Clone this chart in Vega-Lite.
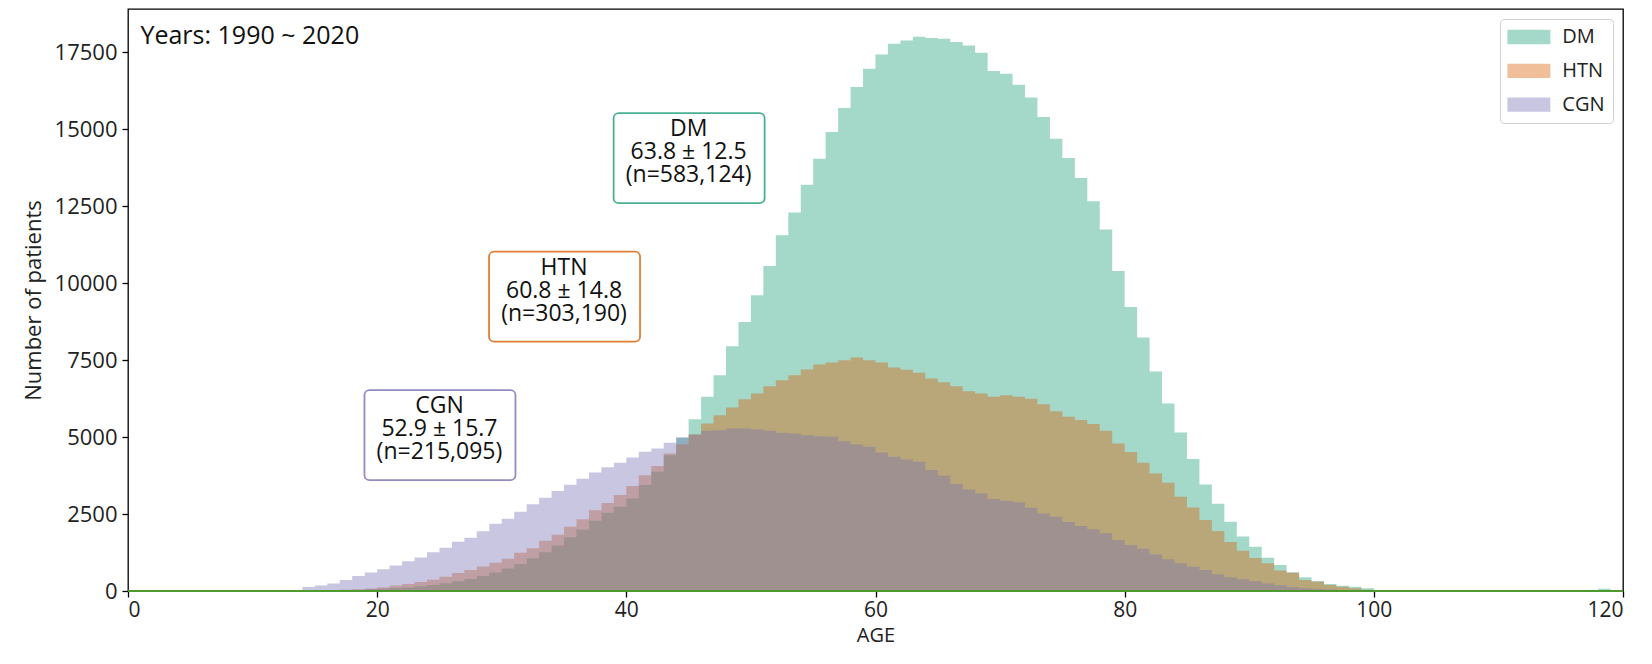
{
  "$schema": "https://vega.github.io/schema/vega-lite/v6.json",
  "width": 1495,
  "height": 582,
  "autosize": {"type": "none"},
  "padding": {"left": 128, "top": 9, "right": 29, "bottom": 73},
  "background": "white",
  "config": {
    "font": "Open Sans",
    "view": {"stroke": "#000", "strokeWidth": 1.3},
    "axis": {"grid": false, "domain": false, "tickColor": "#000", "tickWidth": 1.3, "tickSize": 6, "labelColor": "#222", "labelFontSize": 21, "titleFontSize": 20, "titleFontWeight": "normal", "titleColor": "#222"},
    "legend": {"symbolType": "M-3.07,-1.02H3.07V1.02H-3.07Z", "symbolSize": 196, "symbolOffset": 10.9, "symbolOpacity": 0.4, "symbolStrokeWidth": 0, "labelFontSize": 20, "labelColor": "#222", "labelOffset": 23.4, "rowPadding": 13.8, "padding": 8, "strokeColor": "#d0d0d0", "cornerRadius": 4, "fillColor": "white"}
  },
  "datasets": {
    "hist": [
      {"age":12,"dx":"DM","n":0},{"age":13,"dx":"DM","n":0},{"age":14,"dx":"DM","n":5},{"age":15,"dx":"DM","n":10},{"age":16,"dx":"DM","n":15},{"age":17,"dx":"DM","n":25},{"age":18,"dx":"DM","n":40},{"age":19,"dx":"DM","n":60},
      {"age":20,"dx":"DM","n":77},{"age":21,"dx":"DM","n":97},{"age":22,"dx":"DM","n":117},{"age":23,"dx":"DM","n":155},{"age":24,"dx":"DM","n":194},{"age":25,"dx":"DM","n":252},{"age":26,"dx":"DM","n":320},{"age":27,"dx":"DM","n":388},{"age":28,"dx":"DM","n":485},{"age":29,"dx":"DM","n":602},
      {"age":30,"dx":"DM","n":728},{"age":31,"dx":"DM","n":874},{"age":32,"dx":"DM","n":1067},{"age":33,"dx":"DM","n":1261},{"age":34,"dx":"DM","n":1476},{"age":35,"dx":"DM","n":1747},{"age":36,"dx":"DM","n":1990},{"age":37,"dx":"DM","n":2282},{"age":38,"dx":"DM","n":2543},{"age":39,"dx":"DM","n":2737},
      {"age":40,"dx":"DM","n":3008},{"age":41,"dx":"DM","n":3441},{"age":42,"dx":"DM","n":3874},{"age":43,"dx":"DM","n":4415},{"age":44,"dx":"DM","n":4990},{"age":45,"dx":"DM","n":5583},{"age":46,"dx":"DM","n":6309},{"age":47,"dx":"DM","n":7014},{"age":48,"dx":"DM","n":7955},{"age":49,"dx":"DM","n":8745},
      {"age":50,"dx":"DM","n":9611},{"age":51,"dx":"DM","n":10563},{"age":52,"dx":"DM","n":11559},{"age":53,"dx":"DM","n":12296},{"age":54,"dx":"DM","n":13205},{"age":55,"dx":"DM","n":14049},{"age":56,"dx":"DM","n":14914},{"age":57,"dx":"DM","n":15693},{"age":58,"dx":"DM","n":16375},{"age":59,"dx":"DM","n":16972},
      {"age":60,"dx":"DM","n":17437},{"age":61,"dx":"DM","n":17783},{"age":62,"dx":"DM","n":17891},{"age":63,"dx":"DM","n":18010},{"age":64,"dx":"DM","n":17968},{"age":65,"dx":"DM","n":17944},{"age":66,"dx":"DM","n":17836},{"age":67,"dx":"DM","n":17729},{"age":68,"dx":"DM","n":17491},{"age":69,"dx":"DM","n":16895},
      {"age":70,"dx":"DM","n":16809},{"age":71,"dx":"DM","n":16452},{"age":72,"dx":"DM","n":16040},{"age":73,"dx":"DM","n":15401},{"age":74,"dx":"DM","n":14699},{"age":75,"dx":"DM","n":14070},{"age":76,"dx":"DM","n":13420},{"age":77,"dx":"DM","n":12663},{"age":78,"dx":"DM","n":11744},{"age":79,"dx":"DM","n":10400},
      {"age":80,"dx":"DM","n":9231},{"age":81,"dx":"DM","n":8237},{"age":82,"dx":"DM","n":7130},{"age":83,"dx":"DM","n":6094},{"age":84,"dx":"DM","n":5152},{"age":85,"dx":"DM","n":4286},{"age":86,"dx":"DM","n":3464},{"age":87,"dx":"DM","n":2835},{"age":88,"dx":"DM","n":2251},{"age":89,"dx":"DM","n":1775},
      {"age":90,"dx":"DM","n":1435},{"age":91,"dx":"DM","n":1082},{"age":92,"dx":"DM","n":844},{"age":93,"dx":"DM","n":606},{"age":94,"dx":"DM","n":444},{"age":95,"dx":"DM","n":325},{"age":96,"dx":"DM","n":227},{"age":97,"dx":"DM","n":173},{"age":98,"dx":"DM","n":141},{"age":99,"dx":"DM","n":87},
      {"age":100,"dx":"DM","n":0},{"age":117,"dx":"DM","n":0},{"age":118,"dx":"DM","n":70},{"age":119,"dx":"DM","n":0},

      {"age":15,"dx":"HTN","n":0},{"age":16,"dx":"HTN","n":20},{"age":17,"dx":"HTN","n":40},{"age":18,"dx":"HTN","n":60},{"age":19,"dx":"HTN","n":85},
      {"age":20,"dx":"HTN","n":117},{"age":21,"dx":"HTN","n":175},{"age":22,"dx":"HTN","n":224},{"age":23,"dx":"HTN","n":292},{"age":24,"dx":"HTN","n":368},{"age":25,"dx":"HTN","n":466},{"age":26,"dx":"HTN","n":582},{"age":27,"dx":"HTN","n":680},{"age":28,"dx":"HTN","n":796},{"age":29,"dx":"HTN","n":922},
      {"age":30,"dx":"HTN","n":1048},{"age":31,"dx":"HTN","n":1242},{"age":32,"dx":"HTN","n":1388},{"age":33,"dx":"HTN","n":1630},{"age":34,"dx":"HTN","n":1824},{"age":35,"dx":"HTN","n":2087},{"age":36,"dx":"HTN","n":2329},{"age":37,"dx":"HTN","n":2620},{"age":38,"dx":"HTN","n":2863},{"age":39,"dx":"HTN","n":3116},
      {"age":40,"dx":"HTN","n":3408},{"age":41,"dx":"HTN","n":3765},{"age":42,"dx":"HTN","n":4058},{"age":43,"dx":"HTN","n":4469},{"age":44,"dx":"HTN","n":4772},{"age":45,"dx":"HTN","n":5085},{"age":46,"dx":"HTN","n":5442},{"age":47,"dx":"HTN","n":5713},{"age":48,"dx":"HTN","n":5962},{"age":49,"dx":"HTN","n":6232},
      {"age":50,"dx":"HTN","n":6416},{"age":51,"dx":"HTN","n":6654},{"age":52,"dx":"HTN","n":6849},{"age":53,"dx":"HTN","n":7011},{"age":54,"dx":"HTN","n":7195},{"age":55,"dx":"HTN","n":7358},{"age":56,"dx":"HTN","n":7423},{"age":57,"dx":"HTN","n":7498},{"age":58,"dx":"HTN","n":7585},{"age":59,"dx":"HTN","n":7498},
      {"age":60,"dx":"HTN","n":7423},{"age":61,"dx":"HTN","n":7260},{"age":62,"dx":"HTN","n":7190},{"age":63,"dx":"HTN","n":7088},{"age":64,"dx":"HTN","n":6906},{"age":65,"dx":"HTN","n":6786},{"age":66,"dx":"HTN","n":6656},{"age":67,"dx":"HTN","n":6494},{"age":68,"dx":"HTN","n":6419},{"age":69,"dx":"HTN","n":6309},
      {"age":70,"dx":"HTN","n":6364},{"age":71,"dx":"HTN","n":6309},{"age":72,"dx":"HTN","n":6244},{"age":73,"dx":"HTN","n":6072},{"age":74,"dx":"HTN","n":5845},{"age":75,"dx":"HTN","n":5660},{"age":76,"dx":"HTN","n":5553},{"age":77,"dx":"HTN","n":5423},{"age":78,"dx":"HTN","n":5206},{"age":79,"dx":"HTN","n":4796},
      {"age":80,"dx":"HTN","n":4513},{"age":81,"dx":"HTN","n":4166},{"age":82,"dx":"HTN","n":3821},{"age":83,"dx":"HTN","n":3517},{"age":84,"dx":"HTN","n":3062},{"age":85,"dx":"HTN","n":2717},{"age":86,"dx":"HTN","n":2305},{"age":87,"dx":"HTN","n":1948},{"age":88,"dx":"HTN","n":1591},{"age":89,"dx":"HTN","n":1309},
      {"age":90,"dx":"HTN","n":1075},{"age":91,"dx":"HTN","n":899},{"age":92,"dx":"HTN","n":670},{"age":93,"dx":"HTN","n":595},{"age":94,"dx":"HTN","n":357},{"age":95,"dx":"HTN","n":303},{"age":96,"dx":"HTN","n":195},{"age":97,"dx":"HTN","n":141},{"age":98,"dx":"HTN","n":87},{"age":99,"dx":"HTN","n":40},{"age":100,"dx":"HTN","n":0},

      {"age":12,"dx":"CGN","n":0},{"age":13,"dx":"CGN","n":0},{"age":14,"dx":"CGN","n":126},{"age":15,"dx":"CGN","n":175},{"age":16,"dx":"CGN","n":243},{"age":17,"dx":"CGN","n":359},{"age":18,"dx":"CGN","n":485},{"age":19,"dx":"CGN","n":602},
      {"age":20,"dx":"CGN","n":708},{"age":21,"dx":"CGN","n":825},{"age":22,"dx":"CGN","n":970},{"age":23,"dx":"CGN","n":1087},{"age":24,"dx":"CGN","n":1261},{"age":25,"dx":"CGN","n":1408},{"age":26,"dx":"CGN","n":1602},{"age":27,"dx":"CGN","n":1728},{"age":28,"dx":"CGN","n":1941},{"age":29,"dx":"CGN","n":2184},
      {"age":30,"dx":"CGN","n":2349},{"age":31,"dx":"CGN","n":2572},{"age":32,"dx":"CGN","n":2815},{"age":33,"dx":"CGN","n":3029},{"age":34,"dx":"CGN","n":3251},{"age":35,"dx":"CGN","n":3450},{"age":36,"dx":"CGN","n":3650},{"age":37,"dx":"CGN","n":3850},{"age":38,"dx":"CGN","n":4020},{"age":39,"dx":"CGN","n":4166},
      {"age":40,"dx":"CGN","n":4339},{"age":41,"dx":"CGN","n":4523},{"age":42,"dx":"CGN","n":4631},{"age":43,"dx":"CGN","n":4815},{"age":44,"dx":"CGN","n":4988},{"age":45,"dx":"CGN","n":5085},{"age":46,"dx":"CGN","n":5204},{"age":47,"dx":"CGN","n":5226},{"age":48,"dx":"CGN","n":5280},{"age":49,"dx":"CGN","n":5280},
      {"age":50,"dx":"CGN","n":5248},{"age":51,"dx":"CGN","n":5204},{"age":52,"dx":"CGN","n":5140},{"age":53,"dx":"CGN","n":5118},{"age":54,"dx":"CGN","n":5064},{"age":55,"dx":"CGN","n":5031},{"age":56,"dx":"CGN","n":5010},{"age":57,"dx":"CGN","n":4869},{"age":58,"dx":"CGN","n":4761},{"age":59,"dx":"CGN","n":4685},
      {"age":60,"dx":"CGN","n":4501},{"age":61,"dx":"CGN","n":4360},{"age":62,"dx":"CGN","n":4270},{"age":63,"dx":"CGN","n":4198},{"age":64,"dx":"CGN","n":3929},{"age":65,"dx":"CGN","n":3744},{"age":66,"dx":"CGN","n":3474},{"age":67,"dx":"CGN","n":3302},{"age":68,"dx":"CGN","n":3172},{"age":69,"dx":"CGN","n":2987},
      {"age":70,"dx":"CGN","n":2932},{"age":71,"dx":"CGN","n":2880},{"age":72,"dx":"CGN","n":2705},{"age":73,"dx":"CGN","n":2522},{"age":74,"dx":"CGN","n":2413},{"age":75,"dx":"CGN","n":2240},{"age":76,"dx":"CGN","n":2110},{"age":77,"dx":"CGN","n":2003},{"age":78,"dx":"CGN","n":1873},{"age":79,"dx":"CGN","n":1656},
      {"age":80,"dx":"CGN","n":1494},{"age":81,"dx":"CGN","n":1374},{"age":82,"dx":"CGN","n":1190},{"age":83,"dx":"CGN","n":1028},{"age":84,"dx":"CGN","n":899},{"age":85,"dx":"CGN","n":790},{"age":86,"dx":"CGN","n":682},{"age":87,"dx":"CGN","n":541},{"age":88,"dx":"CGN","n":444},{"age":89,"dx":"CGN","n":379},
      {"age":90,"dx":"CGN","n":315},{"age":91,"dx":"CGN","n":240},{"age":92,"dx":"CGN","n":185},{"age":93,"dx":"CGN","n":130},{"age":94,"dx":"CGN","n":87},{"age":95,"dx":"CGN","n":65},{"age":96,"dx":"CGN","n":50},{"age":97,"dx":"CGN","n":35},{"age":98,"dx":"CGN","n":25},{"age":99,"dx":"CGN","n":15},{"age":100,"dx":"CGN","n":0}
    ],
    "notes": [
      {"box": "DM", "age": 45, "n": 14000, "label": "DM\n63.8 ± 12.5\n\u00a0(n=583,124)"},
      {"box": "HTN", "age": 35, "n": 9500, "label": "HTN\n60.8 ± 14.8\n\u00a0(n=303,190)"},
      {"box": "CGN", "age": 25, "n": 5000, "label": "CGN\n52.9 ± 15.7\n\u00a0(n=215,095)"}
    ]
  },
  "layer": [
    {
      "data": {"name": "hist"},
      "encoding": {
        "x": {"field": "age", "type": "quantitative", "scale": {"domain": [0, 120], "nice": false, "zero": false},
              "axis": {"values": [0, 20, 40, 60, 80, 100, 120], "title": "AGE", "labelPadding": 2, "titlePadding": 5}},
        "y": {"field": "n", "type": "quantitative", "stack": null, "scale": {"domain": [0, 18912], "nice": false},
              "axis": {"values": [0, 2500, 5000, 7500, 10000, 12500, 15000, 17500], "format": "d", "title": "Number of patients", "labelPadding": 5, "labelFontSize": 22, "titlePadding": 9, "titleFontSize": 22}},
        "color": {"field": "dx", "type": "nominal", "title": null,
                  "scale": {"domain": ["DM", "HTN", "CGN"], "range": ["#1b9e77", "#d95f02", "#7570b3"]},
                  "legend": {"orient": "top-right", "offset": 10}}
      },
      "layer": [
        {"transform": [{"filter": "datum.dx === 'DM'"}], "mark": {"type": "area", "interpolate": "step-after", "opacity": 0.4}},
        {"transform": [{"filter": "datum.dx === 'HTN'"}], "mark": {"type": "area", "interpolate": "step-after", "opacity": 0.4}},
        {"transform": [{"filter": "datum.dx === 'CGN'"}], "mark": {"type": "area", "interpolate": "step-after", "opacity": 0.4}}
      ]
    },
    {
      "data": {"values": [{}]},
      "mark": {"type": "rule", "color": "#4f9a2e", "strokeWidth": 2},
      "encoding": {"x": {"datum": 0}, "x2": {"datum": 120}, "y": {"datum": 0}}
    },
    {
      "data": {"name": "notes"},
      "mark": {"type": "rect", "fill": "white", "strokeWidth": 1.8, "strokeOpacity": 0.8, "cornerRadius": 5, "xOffset": -75, "x2Offset": 76, "yOffset": -47, "y2Offset": 43},
      "encoding": {
        "x": {"field": "age", "type": "quantitative"},
        "x2": {"field": "age"},
        "y": {"field": "n", "type": "quantitative"},
        "y2": {"field": "n"},
        "stroke": {"field": "box", "type": "nominal", "scale": {"domain": ["DM", "HTN", "CGN"], "range": ["#1b9e77", "#d95f02", "#7570b3"]}, "legend": null}
      }
    },
    {
      "data": {"name": "notes"},
      "mark": {"type": "text", "lineBreak": "\n", "fontSize": 23, "align": "center", "baseline": "middle", "dy": -31, "lineHeight": 23, "color": "#111"},
      "encoding": {
        "x": {"field": "age", "type": "quantitative"},
        "y": {"field": "n", "type": "quantitative"},
        "text": {"field": "label"}
      }
    },
    {
      "data": {"values": [{}]},
      "mark": {"type": "text", "fontSize": 25, "align": "left", "baseline": "middle", "color": "#111"},
      "encoding": {"x": {"datum": 1}, "y": {"datum": 18050}, "text": {"value": "Years: 1990 ~ 2020"}}
    }
  ]
}
